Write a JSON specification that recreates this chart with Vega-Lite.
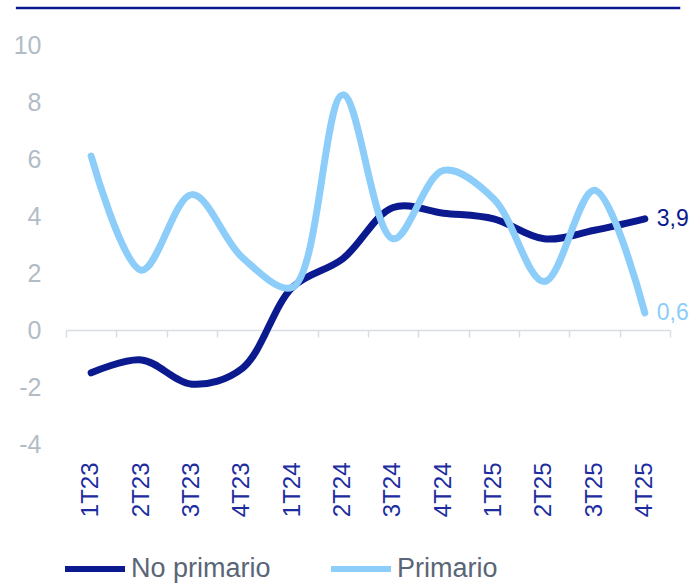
{
  "$schema": "https://vega.github.io/schema/vega-lite/v6.json",
  "width": 604,
  "height": 399,
  "autosize": {"type": "none"},
  "padding": {"left": 66, "top": 45, "right": 27, "bottom": 139},
  "background": "#ffffff",
  "config": {
    "view": {"stroke": null},
    "font": "Liberation Sans",
    "locale": {"number": {"decimal": ",", "thousands": ".", "grouping": [3], "currency": ["", " €"], "minus": "-"}},
    "axisY": {
      "domain": false, "ticks": false, "grid": false,
      "labelFont": "Liberation Sans", "labelFontSize": 25, "labelColor": "#b3bcc6",
      "labelPadding": 25, "title": null
    }
  },
  "datasets": {
    "series": [
      {"q": "1T23", "serie": "No primario", "v": -1.5},
      {"q": "2T23", "serie": "No primario", "v": -1.05},
      {"q": "3T23", "serie": "No primario", "v": -1.9},
      {"q": "4T23", "serie": "No primario", "v": -1.35},
      {"q": "1T24", "serie": "No primario", "v": 1.5},
      {"q": "2T24", "serie": "No primario", "v": 2.5},
      {"q": "3T24", "serie": "No primario", "v": 4.3},
      {"q": "4T24", "serie": "No primario", "v": 4.1},
      {"q": "1T25", "serie": "No primario", "v": 3.9},
      {"q": "2T25", "serie": "No primario", "v": 3.2},
      {"q": "3T25", "serie": "No primario", "v": 3.5},
      {"q": "4T25", "serie": "No primario", "v": 3.9},
      {"q": "1T23", "serie": "Primario", "v": 6.1},
      {"q": "2T23", "serie": "Primario", "v": 2.1},
      {"q": "3T23", "serie": "Primario", "v": 4.75},
      {"q": "4T23", "serie": "Primario", "v": 2.55},
      {"q": "1T24", "serie": "Primario", "v": 1.5},
      {"q": "2T24", "serie": "Primario", "v": 8.25},
      {"q": "3T24", "serie": "Primario", "v": 3.2},
      {"q": "4T24", "serie": "Primario", "v": 5.6},
      {"q": "1T25", "serie": "Primario", "v": 4.6},
      {"q": "2T25", "serie": "Primario", "v": 1.7},
      {"q": "3T25", "serie": "Primario", "v": 4.9},
      {"q": "4T25", "serie": "Primario", "v": 0.6}
    ]
  },
  "layer": [
    {
      "data": {"name": "series"},
      "layer": [
        {
          "mark": {"type": "line", "interpolate": "catmull-rom", "strokeWidth": 7, "strokeCap": "round", "strokeJoin": "round"},
          "encoding": {
            "x": {
              "field": "q", "type": "nominal", "sort": null,
              "scale": {"type": "band", "paddingInner": 0, "paddingOuter": 0},
              "axis": {
                "orient": "bottom", "title": null, "domain": false, "ticks": false, "grid": false,
                "labelAngle": -90, "labelPadding": 18, "labelFont": "Liberation Sans",
                "labelFontSize": 24, "labelColor": "#1c2c9e"
              }
            },
            "y": {
              "field": "v", "type": "quantitative",
              "scale": {"domain": [-4, 10], "nice": false, "zero": false},
              "axis": {"values": [-4, -2, 0, 2, 4, 6, 8, 10], "format": "d"}
            },
            "color": {
              "field": "serie", "type": "nominal",
              "scale": {"domain": ["No primario", "Primario"], "range": ["#0b1a8e", "#8ccdfa"]},
              "legend": {
                "title": null, "orient": "none", "direction": "horizontal",
                "legendX": -4, "legendY": 491,
                "symbolType": "stroke", "symbolSize": 3600, "symbolStrokeWidth": 6,
                "labelFont": "Liberation Sans", "labelFontSize": 27, "labelColor": "#5a6576",
                "labelOffset": 3, "columnPadding": 48, "labelLimit": 300
              }
            }
          }
        },
        {
          "transform": [{"filter": "datum.q === '4T25'"}],
          "mark": {"type": "text", "align": "left", "baseline": "middle", "dx": 12, "fontSize": 23, "font": "Liberation Sans"},
          "encoding": {
            "x": {
              "field": "q", "type": "nominal", "sort": null,
              "axis": {
                "orient": "bottom", "offset": -114, "title": null, "labels": false, "grid": false,
                "domain": true, "domainColor": "#d8dde4", "domainWidth": 1.5,
                "ticks": true, "tickBand": "extent", "tickSize": 7, "tickColor": "#d8dde4", "tickWidth": 1.5
              }
            },
            "y": {"field": "v", "type": "quantitative"},
            "text": {"field": "v", "type": "quantitative", "format": ".1f"},
            "color": {"field": "serie", "type": "nominal", "legend": null}
          }
        }
      ],
      "resolve": {"axis": {"x": "independent"}}
    },
    {
      "data": {"values": [{}]},
      "mark": {"type": "rule", "color": "#0b1a8e", "strokeWidth": 2.5, "clip": false},
      "encoding": {
        "x": {"datum": -0.083, "type": "quantitative", "scale": {"domain": [0, 1], "nice": false, "zero": false}, "axis": null},
        "x2": {"datum": 1.017},
        "y": {"datum": 11.3, "type": "quantitative"}
      }
    }
  ],
  "resolve": {"scale": {"x": "independent"}}
}
